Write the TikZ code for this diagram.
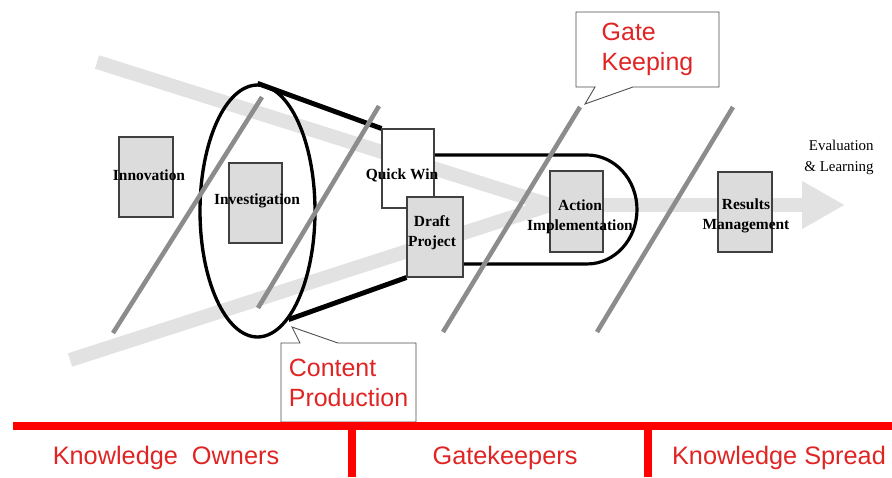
\documentclass[tikz,border=0pt]{standalone}
\usepackage{fontspec}
\setmainfont{Liberation Serif}
\newfontfamily\notefont{Liberation Sans}
\usepackage{tikz}
\usetikzlibrary{arrows.meta, shapes.geometric, shapes.callouts}
\definecolor{flowgray}{HTML}{E2E2E2}
\definecolor{gategray}{HTML}{8C8C8C}
\definecolor{blockfill}{HTML}{DCDCDC}
\definecolor{phasered}{HTML}{FF0000}
\definecolor{notered}{HTML}{E02424}
\tikzset{
    block/.style={rectangle, draw=black!75, fill=blockfill, line width=0.6pt, inner sep=0pt},
    blocktext/.style={align=center, inner sep=0pt, font=\bfseries\fontsize{8.8}{11.3}\selectfont},
    flow/.style={line width=8pt, draw=flowgray},
    gateline/.style={line width=2.6pt, draw=gategray},
    outline/.style={line width=1.8pt, draw=black},
    note/.style={rectangle callout, draw=black!70, fill=white, line width=0.5pt, inner sep=0pt, callout pointer width=0.76cm, align=left, text=notered, font=\notefont\fontsize{14.2}{17}\selectfont},
    phase/.style={line width=4.5pt, draw=phasered},
    phasetext/.style={text=notered, inner sep=0pt, font=\notefont\fontsize{14.4}{17}\selectfont}
}

\begin{document}
\begin{tikzpicture}[x=0.02cm, y=-0.02cm]
    \useasboundingbox (0,0) rectangle (892,477);
    % flow bands
    \coordinate (flowtop) at (97,62);
    \coordinate (flowbottom) at (70,360);
    \coordinate (merge) at (550,205);
    \coordinate (flowend) at (845,205);
    \draw[flow] (flowtop) -- (merge);
    \draw[flow] (flowbottom) -- (merge);
    \draw[flow, line width=8.5pt, -{Triangle[width=25.5pt, length=24.4pt]}] (merge) -- (flowend);

    % funnel and pipe
    \node[ellipse, draw, line width=1.9pt, minimum width=2.3cm, minimum height=5.04cm, inner sep=0pt] (funnel) at (257.5,211) {};
    \node[block, fill=white, minimum width=1.04cm, minimum height=1.58cm] (qwin) at (408,168.5) {};
    \node[block, minimum width=1.12cm, minimum height=1.6cm] (draft) at (435,237) {};
    \draw[outline, line width=2.8pt] (funnel.north) -- (qwin.north west);
    \draw[outline, line width=2.8pt] (funnel.-74) -- (draft.south west);
    \draw[outline] (qwin.east |- 0,155) -- (587,155) arc[start angle=90, end angle=-90, x radius=1cm, y radius=1.09cm] -- (draft.east |- 0,264);

    \node[block, minimum width=1.08cm, minimum height=1.6cm] (innov) at (146,177) {};
    \node[block, minimum width=1.06cm, minimum height=1.6cm] (invest) at (255.5,203) {};
    \node[block, minimum width=1.06cm, minimum height=1.62cm] (action) at (576.5,211.5) {};
    \node[block, minimum width=1.08cm, minimum height=1.6cm] (results) at (745,212) {};
    \node[block, fill=white, minimum width=1.04cm, minimum height=1.58cm] at (qwin) {};
    \node[block, minimum width=1.12cm, minimum height=1.6cm] at (draft) {};

    \node[blocktext] (innovtext) at (149,175) {Innovation};
    \node[blocktext] (investtext) at (257,201) {Investigation};
    \node[blocktext] (qwintext) at (402,175) {Quick Win};
    \node[blocktext] (drafttext) at (432,233) {Draft\\Project};
    \node[blocktext] (actiontext) at (580,217) {Action\\Implementation};
    \node[blocktext] (resultstext) at (746,216) {Results\\Management};
    \node[align=right, anchor=east, inner sep=0pt, font=\fontsize{8.5}{12}\selectfont] (evaltext) at (874,157) {Evaluation\\\& Learning};

    % gates
    \foreach \bx/\by/\tx/\ty in {113/333/262/97, 258/308/379/106, 443/332/580/107, 597/332/733/107}
        \draw[gateline] (\bx,\by) -- (\tx,\ty);

    % callouts
    \node[note, minimum width=2.86cm, minimum height=1.5cm, callout absolute pointer={(585,104)}] (gatenote) at (647.5,49.5) {Gate\\Keeping};
    \node[note, minimum width=2.7cm, minimum height=1.58cm, callout absolute pointer={(292,327)}] (contentnote) at (348.5,382.5) {Content\\Production};

    % phases
    \draw[phase] (13,426) -- (892,426);
    \draw[phase] (352,426) -- (352,477);
    \draw[phase] (648,426) -- (648,477);
    \node[phasetext] (owners) at (166,458) {Knowledge\ \ Owners};
    \node[phasetext] (keepers) at (505,458) {Gatekeepers};
    \node[phasetext] (spread) at (779,458) {Knowledge Spread};
\end{tikzpicture}
\end{document}
